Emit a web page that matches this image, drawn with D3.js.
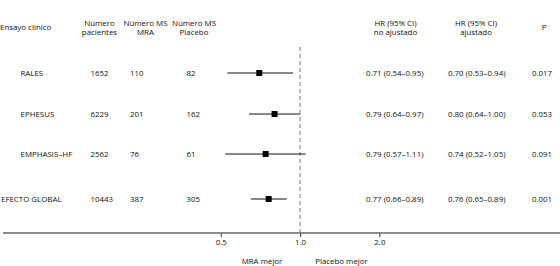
<!DOCTYPE html>
<html>
<head>
<meta charset="utf-8">
<script src="https://cdn.jsdelivr.net/npm/d3@7"></script>
<style>
  body { margin: 0; background: #fff; }
  svg text { font-family: "Open Sans", sans-serif; font-size: 7.9px; fill: #111; }
</style>
</head>
<body>
<div id="plot"></div>
<script>
var trials = ['RALES', 'EPHESUS', 'EMPHASIS\u2013HF', 'EFECTO GLOBAL'];
var patients = ['1652', '6229', '2562', '10443'];
var deathsMRA = ['110', '201', '76', '387'];
var deathsPlacebo = ['82', '162', '61', '305'];
var hrUnadj = ['0.71 (0.54\u20130.95)', '0.79 (0.64\u20130.97)', '0.79 (0.57\u20131.11)', '0.77 (0.66\u20130.89)'];
var hrAdj = ['0.70 (0.53\u20130.94)', '0.80 (0.64\u20131.00)', '0.74 (0.52\u20131.05)', '0.76 (0.65\u20130.89)'];
var pValues = ['0.017', '0.053', '0.091', '0.001'];
// plotted values (adjusted HR)
var hr = [0.70, 0.80, 0.74, 0.76];
var lower = [0.53, 0.64, 0.52, 0.65];
var upper = [0.94, 1.00, 1.05, 0.89];
var tickValues = [0.5, 1.0, 2.0];

var width = 560, height = 266;
var rowY = [73, 114, 154, 199];
var axisY = 233;

var svg = d3.select("#plot")
  .append("svg")
  .attr("width", width)
  .attr("height", height);

// log scale: 1.0 at x=300, ~79px per doubling
var x = d3.scaleLog()
  .domain([0.0745, 9.7])
  .range([3, 560]);

// headers
function header(lines, cx, anchor) {
  var t = svg.append("text")
    .attr("x", cx)
    .attr("y", lines.length == 1 ? 30 : 26)
    .style("text-anchor", anchor);
  lines.forEach(function(l, i) {
    t.append("tspan").attr("x", cx).attr("dy", i == 0 ? 0 : 8.5).text(l);
  });
}
header(['Ensayo clínico'], 0, 'start');
header(['Número', 'pacientes'], 99.5, 'middle');
header(['Número MS', 'MRA'], 145.5, 'middle');
header(['Número MS', 'Placebo'], 194, 'middle');
header(['HR (95% CI)', 'no ajustado'], 395.5, 'middle');
header(['HR (95% CI)', 'ajustado'], 476, 'middle');
header(['P'], 544, 'middle');

// reference line at 1.0
svg.append("line")
  .attr("x1", x(1)).attr("x2", x(1))
  .attr("y1", 47).attr("y2", axisY)
  .style("stroke", "#777")
  .style("stroke-width", 1)
  .style("stroke-dasharray", "4,3");

// rows
var cols = [
  { vals: patients, x: 90.5 },
  { vals: deathsMRA, x: 130 },
  { vals: deathsPlacebo, x: 186.5 },
  { vals: hrUnadj, x: 366 },
  { vals: hrAdj, x: 448 },
  { vals: pValues, x: 532 }
];

trials.forEach(function(name, i) {
  var y = rowY[i] + 2.8;
  svg.append("text")
    .attr("x", i == trials.length - 1 ? 1 : 20.5)
    .attr("y", y)
    .text(name);
  cols.forEach(function(c) {
    svg.append("text").attr("x", c.x).attr("y", y).text(c.vals[i]);
  });
});

svg.selectAll("line.ci")
  .data(hr)
  .enter()
  .append("line")
  .attr("class", "ci")
  .attr("x1", function(d, i) { return x(lower[i]); })
  .attr("x2", function(d, i) { return x(upper[i]); })
  .attr("y1", function(d, i) { return rowY[i]; })
  .attr("y2", function(d, i) { return rowY[i]; })
  .style("stroke", "#111")
  .style("stroke-width", 1);

svg.selectAll("rect.pt")
  .data(hr)
  .enter()
  .append("rect")
  .attr("class", "pt")
  .attr("x", function(d) { return x(d) - 3; })
  .attr("y", function(d, i) { return rowY[i] - 3; })
  .attr("width", 6)
  .attr("height", 6)
  .style("fill", "#000");

// x axis
var ax = svg.append("g")
  .attr("transform", "translate(0," + axisY + ")")
  .call(d3.axisBottom(x)
    .tickValues(tickValues)
    .tickFormat(d3.format(".1f"))
    .tickSizeOuter(0)
    .tickSize(4)
    .tickPadding(2));
ax.select(".domain").remove();
ax.append("line")
  .attr("x1", x.range()[0]).attr("x2", x.range()[1])
  .attr("y1", 0).attr("y2", 0)
  .style("stroke", "#666")
  .style("stroke-width", 1.5);
ax.selectAll(".tick line").style("stroke", "#333");
ax.selectAll(".tick text").style("font-size", "7.9px").style("font-family", '"Open Sans", sans-serif').style("fill", "#111");

svg.append("text")
  .attr("x", 262).attr("y", 264)
  .style("text-anchor", "middle")
  .text("MRA mejor");
svg.append("text")
  .attr("x", 341.5).attr("y", 264)
  .style("text-anchor", "middle")
  .text("Placebo mejor");
</script>
</body>
</html>
